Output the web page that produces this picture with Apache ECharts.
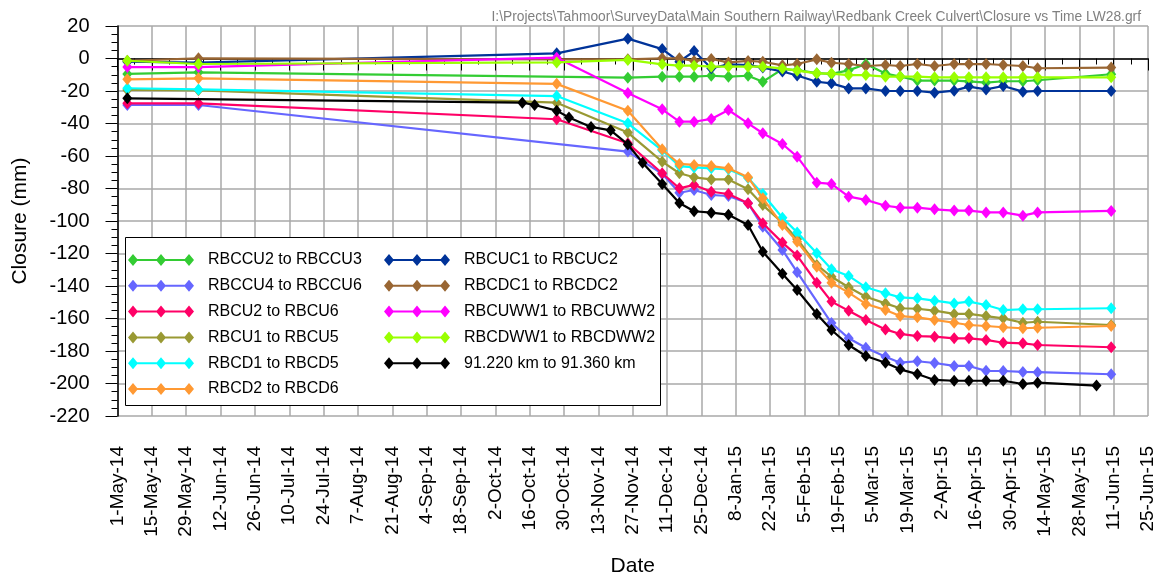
<!DOCTYPE html>
<html>
<head>
<meta charset="utf-8">
<script src="https://cdn.jsdelivr.net/npm/echarts@6/dist/echarts.min.js"></script>
<style>
html,body{margin:0;padding:0;background:#fff;}
#chart{width:1160px;height:576px;}
</style>
</head>
<body>
<div id="chart"></div>
<script>
// ---- Data ----
const tickLabels = ['1-May-14','15-May-14','29-May-14','12-Jun-14','26-Jun-14','10-Jul-14','24-Jul-14','7-Aug-14','21-Aug-14','4-Sep-14','18-Sep-14','2-Oct-14','16-Oct-14','30-Oct-14','13-Nov-14','27-Nov-14','11-Dec-14','25-Dec-14','8-Jan-15','22-Jan-15','5-Feb-15','19-Feb-15','5-Mar-15','19-Mar-15','2-Apr-15','16-Apr-15','30-Apr-15','14-May-15','28-May-15','11-Jun-15','25-Jun-15'];

const surveyDates = ['2014-05-05','2014-06-03','2014-10-27','2014-11-25','2014-12-09','2014-12-16','2014-12-22','2014-12-29','2015-01-05','2015-01-13','2015-01-19','2015-01-27','2015-02-02','2015-02-10','2015-02-16','2015-02-23','2015-03-02','2015-03-10','2015-03-16','2015-03-23','2015-03-30','2015-04-07','2015-04-13','2015-04-20','2015-04-27','2015-05-05','2015-05-11','2015-06-10'];

const RBCCU2_RBCCU3 = [-9.5,-8.5,null,-11.8,-11.2,-11.2,-11.2,-10.6,-11.2,-10.6,-14.3,-6.5,-7.2,-9.0,-9.5,-7.3,-3.4,-9.3,-11.1,-13.6,-13.6,-13.6,-14.1,-14.8,-14.0,-14.0,-13.4,-9.7];
const RBCCU4_RBCCU6 = [-28.6,-28.6,null,-57.3,-71.0,-82.6,-80.9,-84.0,-84.6,-89.0,-103.5,-117.8,-131.5,null,-162.8,-172.2,-178.0,-183.5,-187.2,-186.3,-187.4,-189.2,-189.2,-192.2,-192.3,-192.9,-193.0,-194.3];
const RBCU2_RBCU6 = [-27.6,-27.6,-37.4,-52.2,-70.6,-79.9,-77.8,-82.0,-83.4,-89.1,-101.4,-113.3,-121.3,-138.0,-149.6,-155.2,-160.9,-166.7,-169.5,-170.8,-171.2,-172.2,-172.2,-173.2,-174.9,-175.3,-176.3,-177.7];
const RBCU1_RBCU5 = [-19.4,-19.6,-27.2,-45.6,-63.5,-70.6,-73.1,-74.4,-74.4,-80.5,-90.2,-101.0,-111.0,-127.0,-134.3,-140.8,-146.6,-150.7,-153.7,-154.0,-155.2,-157.2,-157.2,-158.5,-159.9,-162.6,-162.0,-164.0];
const RBCD1_RBCD5 = [-18.3,-19.0,-23.1,-39.9,-56.5,-66.2,-67.0,-67.6,-68.2,-73.5,-83.4,-98.0,-107.0,-119.9,-129.7,-133.8,-140.8,-144.5,-147.0,-147.6,-149.0,-150.7,-149.6,-151.7,-154.8,-154.3,-154.3,-153.7];
const RBCD2_RBCD6 = [-12.8,-12.2,-15.6,-32.1,-55.9,-64.9,-65.5,-66.2,-67.6,-73.1,-86.0,-102.5,-112.7,-128.1,-138.0,-144.1,-151.0,-154.8,-158.5,-159.3,-160.9,-162.6,-164.0,-164.6,-165.4,-166.0,-165.7,-164.6];
const RBCUC1_RBCUC2 = [-2.0,-2.5,3.2,12.2,5.8,-2.0,4.6,-6.0,-3.6,-4.0,-5.6,-8.0,-10.5,-14.3,-15.3,-18.4,-18.4,-20.0,-20.0,-20.0,-21.0,-19.8,-17.3,-19.0,-16.9,-20.4,-20.0,-20.0];
const RBCDC1_RBCDC2 = [-1.4,0.1,-0.5,-0.5,0.1,0.1,-1.5,-0.3,-2.4,-1.5,-2.0,-4.2,-3.4,-0.5,-2.6,-3.4,-4.6,-4.0,-4.6,-3.4,-4.6,-3.4,-3.4,-3.4,-4.0,-4.6,-6.0,-5.6];
const RBCUWW1_RBCUWW2 = [-5.3,-5.3,0.5,-21.2,-31.3,-38.9,-38.9,-37.2,-31.7,-39.9,-46.0,-52.6,-60.4,-76.4,-77.2,-85.0,-87.0,-90.6,-91.8,-91.8,-92.8,-93.6,-93.6,-94.7,-94.7,-96.7,-94.7,-93.8];
const RBCDWW1_RBCDWW2 = [-1.4,-3.4,-2.4,-0.9,-3.6,-4.4,-4.4,-5.0,-5.0,-5.0,-5.0,-6.1,-7.5,-9.1,-9.3,-10.2,-10.2,-11.2,-11.1,-11.2,-11.6,-11.6,-11.6,-11.6,-11.6,-11.6,-11.6,-11.6];

const trackDates = ['2014-05-05','2014-10-13','2014-10-18','2014-10-27','2014-11-01','2014-11-10','2014-11-18','2014-11-25','2014-12-01','2014-12-09','2014-12-16','2014-12-22','2014-12-29','2015-01-05','2015-01-13','2015-01-19','2015-01-27','2015-02-02','2015-02-10','2015-02-16','2015-02-23','2015-03-02','2015-03-10','2015-03-16','2015-03-23','2015-03-30','2015-04-07','2015-04-13','2015-04-20','2015-04-27','2015-05-05','2015-05-11','2015-06-04'];
const track91220_91360 = [-24.5,-27.2,-28.6,-32.1,-36.3,-42.1,-44.2,-52.9,-64.1,-77.2,-88.9,-94.0,-94.9,-96.1,-102.5,-118.9,-132.4,-142.5,-157.2,-167.1,-176.3,-183.1,-187.2,-191.3,-194.2,-197.8,-198.3,-198.3,-198.3,-198.3,-200.3,-199.5,-201.3];

const seriesNames = ['RBCCU2 to RBCCU3','RBCCU4 to RBCCU6','RBCU2 to RBCU6','RBCU1 to RBCU5','RBCD1 to RBCD5','RBCD2 to RBCD6','RBCUC1 to RBCUC2','RBCDC1 to RBCDC2','RBCUWW1 to RBCUWW2','RBCDWW1 to RBCDWW2','91.220 km to 91.360 km'];
const seriesColors = ['#33cc33','#6666ff','#ff0066','#999933','#00ffff','#ff9933','#003399','#996633','#ff00ff','#99ff00','#000000'];

// ---- Build ----
const origin = Date.UTC(2014,4,1);
function dayNum(s){const p=s.split('-');return (Date.UTC(+p[0],+p[1]-1,+p[2])-origin)/86400000;}
function pairs(dates, vals){return dates.map((d,i)=>vals[i]==null?null:[dayNum(d),vals[i]]).filter(v=>v);}

const allVals = [RBCCU2_RBCCU3,RBCCU4_RBCCU6,RBCU2_RBCU6,RBCU1_RBCU5,RBCD1_RBCD5,RBCD2_RBCD6,RBCUC1_RBCUC2,RBCDC1_RBCDC2,RBCUWW1_RBCUWW2,RBCDWW1_RBCDWW2];
const seriesData = allVals.map(v=>pairs(surveyDates,v));
seriesData.push(pairs(trackDates, track91220_91360));

const FONT = "'Liberation Sans', Arial, sans-serif";
const iconPath = 'path://M0,4H64V6H0Z M-1,5L4,-1L9,5L4,11Z M27,5L32,-1L37,5L32,11Z M55,5L60,-1L65,5L60,11Z';

const series = seriesNames.map((n,i)=>({
  name:n, type:'line', data:seriesData[i], symbol:'diamond', symbolSize:[10,12],
  showAllSymbol:true, connectNulls:true,
  lineStyle:{width:2.2,color:seriesColors[i]}, itemStyle:{color:seriesColors[i]},
  emphasis:{disabled:true}, animation:false, z:2+i*0.01
}));

const legendBase = {
  orient:'vertical', padding:0, itemWidth:66, itemHeight:12, itemGap:9.8, z:20,
  icon:iconPath, selectedMode:false,
  textStyle:{fontSize:16, color:'#000', fontFamily:FONT, lineHeight:16, padding:[0,0,0,9]}
};

const chart = echarts.init(document.getElementById('chart'), null, {renderer:'canvas'});
chart.setOption({
  backgroundColor:'#fff',
  animation:false,
  title:{text:'I:\\Projects\\Tahmoor\\SurveyData\\Main Southern Railway\\Redbank Creek Culvert\\Closure vs Time LW28.grf',
    right:14, top:5, textStyle:{fontSize:13.8, color:'#808080', fontWeight:'normal', fontFamily:FONT}},
  grid:{left:117.5, right:12, top:26, bottom:160, outerBoundsMode:'none', containLabel:false},
  legend:[
    Object.assign({}, legendBase, {left:128, top:252, data:seriesNames.slice(0,6)}),
    Object.assign({}, legendBase, {left:384, top:252, data:seriesNames.slice(6)})
  ],
  graphic:[{type:'rect', shape:{x:125.5,y:237.5,width:535,height:168}, style:{fill:'#fff', stroke:'#000', lineWidth:1}, z:10}],
  xAxis:{type:'value', min:0, max:420, interval:14,
    name:'Date', nameLocation:'middle', nameGap:140,
    nameTextStyle:{fontSize:21, color:'#000', fontFamily:FONT},
    axisLine:{show:true, lineStyle:{color:'#000', width:1.5}},
    axisTick:{show:true, length:12, lineStyle:{color:'#000', width:1}},
    minorTick:{show:true, splitNumber:2, length:6, lineStyle:{color:'#000', width:1}},
    splitLine:{show:true, lineStyle:{color:'#a8a8a8', width:1.5}},
    axisLabel:{rotate:90, fontSize:19, color:'#000', fontFamily:FONT, margin:30,
      formatter:v=>tickLabels[Math.round(v/14)]||''}
  },
  yAxis:{type:'value', min:-220, max:20, interval:20,
    name:'Closure (mm)', nameLocation:'middle', nameGap:87,
    nameTextStyle:{fontSize:21, color:'#000', fontFamily:FONT},
    axisLine:{show:true, lineStyle:{color:'#000', width:1.5}},
    axisTick:{show:true, length:12, lineStyle:{color:'#000', width:1}},
    minorTick:{show:true, splitNumber:4, length:6, lineStyle:{color:'#000', width:1}},
    splitLine:{show:true, lineStyle:{color:'#a8a8a8', width:1.5}},
    axisLabel:{fontSize:20, color:'#000', fontFamily:FONT, margin:28}
  },
  series:series
});
</script>
</body>
</html>
